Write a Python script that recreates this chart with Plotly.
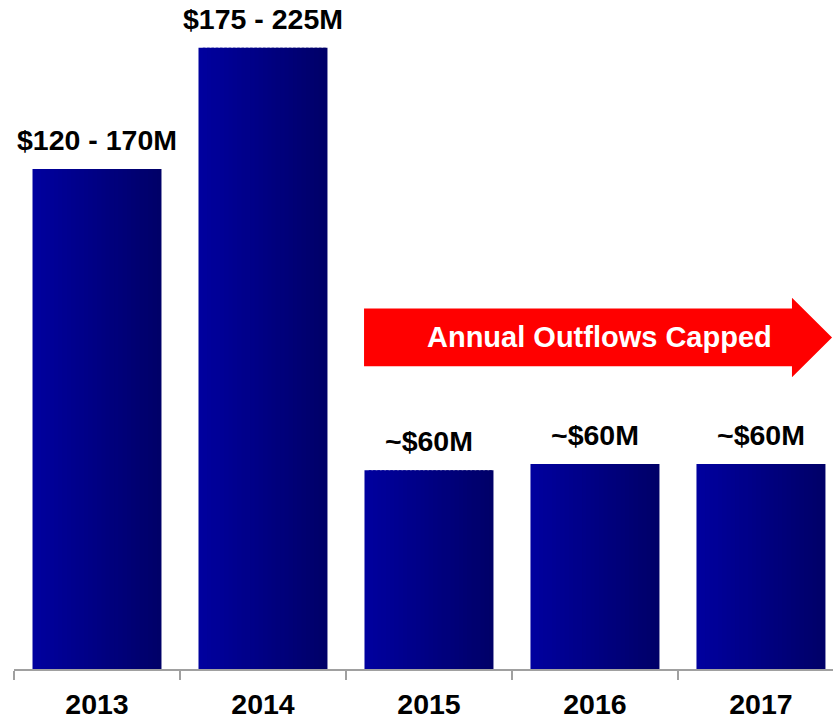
import plotly.graph_objects as go

# ---- data ----
years = ["2013", "2014", "2015", "2016", "2017"]
bar_heights = [161, 200, 64, 66, 66]          # relative bar heights ($M scale)
bar_labels = ["$120 - 170M", "$175 - 225M", "~$60M", "~$60M", "~$60M"]
arrow_text = "Annual Outflows Capped"

# ---- style ----
FONT = "Liberation Sans, Arial, sans-serif"
BAR_W = 0.777
N_STRIPS = 30
c_left = (0, 0, 158)
c_right = (0, 0, 104)
Y_MAX = 215.4
PLOT_H = 672
LABEL_GAP_PX = 12
gap_frac = LABEL_GAP_PX / PLOT_H

fig = go.Figure()
step = BAR_W / N_STRIPS
for i in range(N_STRIPS):
    t = i / (N_STRIPS - 1)
    col = "rgb({},{},{})".format(*[round(a + (b - a) * t) for a, b in zip(c_left, c_right)])
    off = -BAR_W / 2 + i * step
    w = min(step * 1.6, BAR_W / 2 - off)
    fig.add_trace(go.Bar(
        x=years, y=bar_heights, width=w, offset=off,
        marker=dict(color=col, line=dict(width=0)),
        hoverinfo="skip", showlegend=False,
    ))

# value labels above bars (on a hidden axis raised by a few pixels, same scale)
fig.add_trace(go.Scatter(
    x=years, y=bar_heights, mode="text", text=bar_labels, yaxis="y2",
    textposition="top center", cliponaxis=False,
    textfont=dict(family=FONT, size=28.5, color="black", weight="bold"),
    hoverinfo="skip", showlegend=False,
))

# red arrow (paper coords)
bx0, bx1, tip = 0.4274, 0.9499, 0.9988
by0, by1 = 0.4524, 0.5387
hy0, hy1 = 0.4360, 0.5551
cy = (by0 + by1) / 2
path = (f"M {bx0} {by0} L {bx1} {by0} L {bx1} {hy0} L {tip} {cy} "
        f"L {bx1} {hy1} L {bx1} {by1} L {bx0} {by1} Z")
fig.add_shape(type="path", path=path, xref="paper", yref="paper",
              fillcolor="#ff0000", line=dict(width=0), layer="above")
fig.add_annotation(x=0.7143, y=cy, xref="paper", yref="paper", text=arrow_text,
                   showarrow=False, xanchor="center", yanchor="middle",
                   font=dict(family=FONT, size=29, color="white", weight="bold"))

fig.update_layout(
    width=833, height=720,
    margin=dict(l=14, r=0, t=0, b=48),
    barmode="overlay",
    plot_bgcolor="rgba(0,0,0,0)", paper_bgcolor="white",
    xaxis=dict(type="category", range=[-0.5, 4.434], tickson="boundaries",
               ticks="outside", ticklen=9, tickwidth=2, tickcolor="#a0a0a0",
               showline=True, linecolor="#a0a0a0", linewidth=2,
               showgrid=False, zeroline=False, ticklabelstandoff=9,
               tickfont=dict(family=FONT, size=28.5, color="black", weight="bold")),
    yaxis=dict(range=[0, Y_MAX], visible=False, showgrid=False, zeroline=False,
               domain=[0, 1]),
    yaxis2=dict(range=[0, Y_MAX * (1 - gap_frac)], domain=[gap_frac, 1],
                visible=False, showgrid=False, zeroline=False, anchor="x"),
)

fig.write_html("out.html", config={"displayModeBar": False},
               post_script="document.body.style.margin='0';")
